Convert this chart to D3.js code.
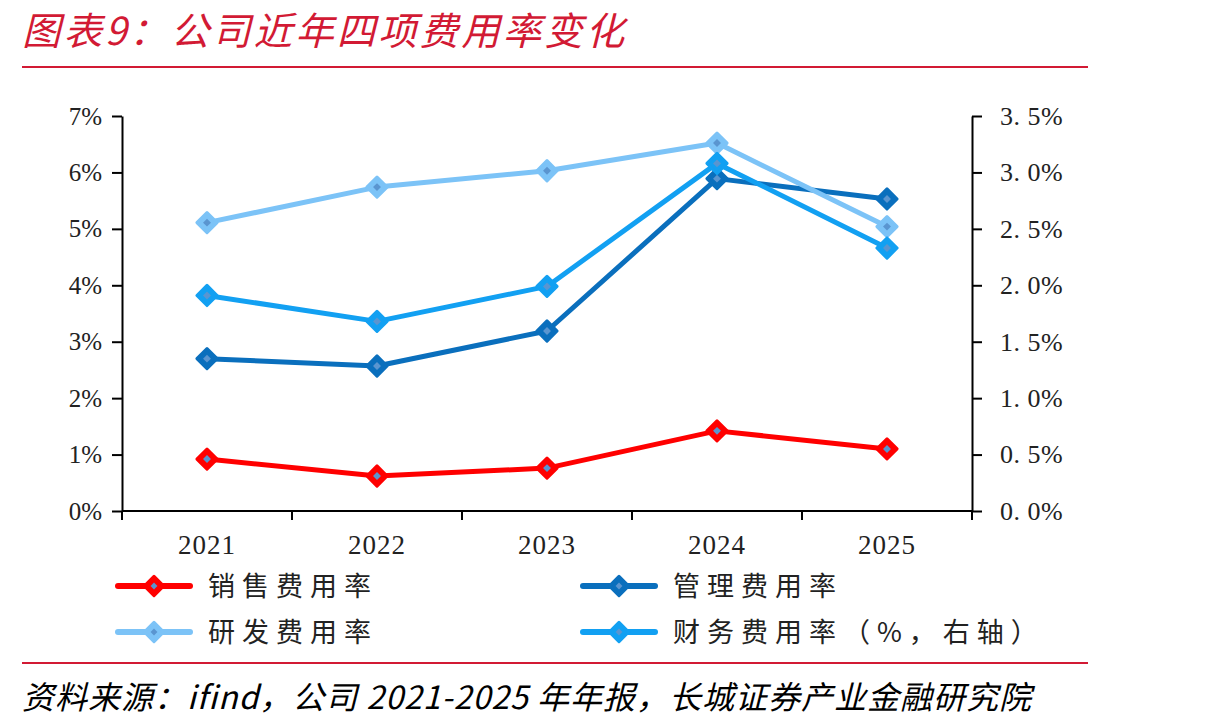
<!DOCTYPE html>
<html>
<head>
<meta charset="utf-8">
<script src="https://cdn.jsdelivr.net/npm/d3@7"></script>
<style>
  body { margin: 0; background: #fff; }
  svg { display: block; }
</style>
</head>
<body>
<div id="container"></div>
<script>
/* CONSTANTS AND GLOBALS */
const width = 1210,
  height = 728;

const years = ["2021", "2022", "2023", "2024", "2025"];
const salesRate = [0.92, 0.62, 0.76, 1.42, 1.10];
const mgmtRate = [2.70, 2.57, 3.19, 5.89, 5.53];
const rdRate = [5.11, 5.74, 6.03, 6.52, 5.04];
const finRate = [1.91, 1.68, 1.99, 3.08, 2.33]; // right axis
const leftTicks = [0, 1, 2, 3, 4, 5, 6, 7];
const rightTicks = [0, 0.5, 1, 1.5, 2, 2.5, 3, 3.5];
const seriesNames = ["销售费用率", "管理费用率", "研发费用率", "财务费用率（%，右轴）"];

const series = [
  { name: seriesNames[0], values: salesRate, axis: "left", color: "#ff0000" },
  { name: seriesNames[1], values: mgmtRate, axis: "left", color: "#0a6fbd" },
  { name: seriesNames[2], values: rdRate, axis: "left", color: "#7cc3f7" },
  { name: seriesNames[3], values: finRate, axis: "right", color: "#12a0f2" }
];

const plot = { left: 122, right: 972, top: 116, bottom: 511 };

const svg = d3.select("#container")
  .append("svg")
  .attr("width", width)
  .attr("height", height);

// SCALES
const xScale = d3.scaleBand()
  .domain(years)
  .range([plot.left, plot.right]);

const yLeft = d3.scaleLinear()
  .domain([0, 7])
  .range([plot.bottom, plot.top]);

const yRight = d3.scaleLinear()
  .domain([0, 3.5])
  .range([plot.bottom, plot.top]);

// TITLE + RULES
svg.append("text")
  .attr("x", 22)
  .attr("y", 45)
  .attr("fill", "#d21a34")
  .style("font-family", "'Noto Sans CJK SC', sans-serif")
  .style("font-style", "italic")
  .style("font-size", "38.5px")
  .style("letter-spacing", "3px")
  .text("图表9：公司近年四项费用率变化");

svg.append("line")
  .attr("x1", 22).attr("x2", 1088)
  .attr("y1", 67).attr("y2", 67)
  .attr("stroke", "#d21a34").attr("stroke-width", 2);

svg.append("line")
  .attr("x1", 22).attr("x2", 1088)
  .attr("y1", 663).attr("y2", 663)
  .attr("stroke", "#d21a34").attr("stroke-width", 2);

svg.append("text")
  .attr("x", 22)
  .attr("y", 709)
  .attr("fill", "#000")
  .style("font-family", "'Noto Sans CJK SC', sans-serif")
  .style("font-style", "italic")
  .style("font-size", "32px")
  .style("letter-spacing", "1px")
  .text("资料来源：ifind，公司 2021-2025 年年报，长城证券产业金融研究院");

// AXES
const serif = "'Liberation Serif', 'DejaVu Serif', serif";

const leftAxis = svg.append("g")
  .attr("transform", `translate(${plot.left},0)`)
  .call(d3.axisLeft(yLeft).tickValues(leftTicks).tickFormat(d => d + "%").tickSize(10).tickSizeOuter(0).tickPadding(10));

const rightAxis = svg.append("g")
  .attr("transform", `translate(${plot.right},0)`)
  .call(d3.axisRight(yRight).tickValues(rightTicks).tickFormat(d => d3.format(".1f")(d).replace(".", ". ") + "%").tickSize(10).tickSizeOuter(0).tickPadding(18));

const xAxis = svg.append("g")
  .attr("transform", `translate(0,${plot.bottom})`)
  .call(d3.axisBottom(xScale).tickSize(0).tickPadding(34));

// category boundary ticks
svg.append("g")
  .selectAll("line")
  .data(d3.range(years.length + 1))
  .join("line")
  .attr("x1", i => plot.left + i * xScale.step())
  .attr("x2", i => plot.left + i * xScale.step())
  .attr("y1", plot.bottom)
  .attr("y2", plot.bottom + 9)
  .attr("stroke", "#000")
  .attr("stroke-width", 2);

[leftAxis, rightAxis, xAxis].forEach(g => {
  g.selectAll("path.domain").attr("stroke", "#000").attr("stroke-width", 2);
  g.selectAll(".tick line").attr("stroke", "#000").attr("stroke-width", 2);
  g.selectAll("text")
    .attr("fill", "#222")
    .style("font-family", serif)
    .style("font-size", "25px");
});
rightAxis.selectAll("text").style("font-size", "26px").style("letter-spacing", "0.5px");
xAxis.selectAll("text").style("font-size", "27px").style("letter-spacing", "1px").attr("dy", "0.35em");
xAxis.select("path.domain").attr("d", `M${plot.left},0H${plot.right}`);

// LINES
const diamond = d3.symbol().type(d3.symbolDiamond2);

series.forEach(s => {
  const yS = s.axis === "left" ? yLeft : yRight;
  const lineGen = d3.line()
    .x((d, i) => xScale(years[i]) + xScale.bandwidth() / 2)
    .y(d => yS(d));

  const g = svg.append("g").attr("class", "series");

  g.append("path")
    .datum(s.values)
    .attr("fill", "none")
    .attr("stroke", s.color)
    .attr("stroke-width", 5)
    .attr("stroke-linejoin", "round")
    .attr("d", lineGen);

  g.selectAll(".marker")
    .data(s.values)
    .join("path")
    .attr("class", "marker")
    .attr("transform", (d, i) => `translate(${xScale(years[i]) + xScale.bandwidth() / 2},${yS(d)})`)
    .attr("d", diamond.size(260))
    .attr("fill", s.color)
    .attr("stroke", s.color)
    .attr("stroke-width", 3)
    .attr("stroke-linejoin", "round");

  g.selectAll(".inner")
    .data(s.values)
    .join("path")
    .attr("class", "inner")
    .attr("transform", (d, i) => `translate(${xScale(years[i]) + xScale.bandwidth() / 2},${yS(d)})`)
    .attr("d", diamond.size(40))
    .attr("fill", "#5a95d0");
});

// LEGEND
const legendPos = [
  { x: 118, y: 586 },
  { x: 583, y: 586 },
  { x: 118, y: 632 },
  { x: 583, y: 632 }
];

const legend = svg.append("g")
  .selectAll("g")
  .data(series)
  .join("g")
  .attr("transform", (d, i) => `translate(${legendPos[i].x},${legendPos[i].y})`);

legend.append("line")
  .attr("x1", 0).attr("x2", 72)
  .attr("y1", 0).attr("y2", 0)
  .attr("stroke", d => d.color)
  .attr("stroke-width", 6)
  .attr("stroke-linecap", "round");

legend.append("path")
  .attr("transform", "translate(36,0)")
  .attr("d", diamond.size(240))
  .attr("fill", d => d.color)
  .attr("stroke", d => d.color)
  .attr("stroke-width", 3)
  .attr("stroke-linejoin", "round");

legend.append("path")
  .attr("transform", "translate(36,0)")
  .attr("d", diamond.size(30))
  .attr("fill", "#5a95d0");

legend.append("text")
  .attr("x", 90)
  .attr("y", 0)
  .attr("dy", "0.36em")
  .attr("fill", "#222")
  .style("font-family", "'Noto Sans CJK SC', sans-serif")
  .style("font-size", "27px")
  .style("letter-spacing", "7px")
  .text(d => d.name);
</script>
</body>
</html>
